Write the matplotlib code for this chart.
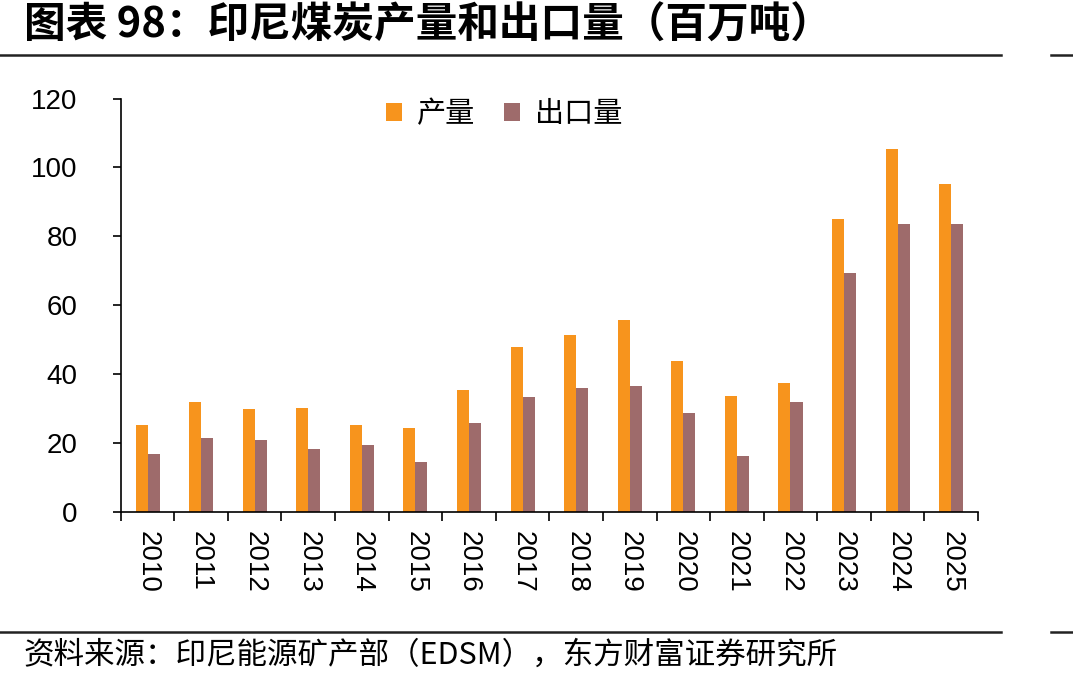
import matplotlib
matplotlib.use('Agg')
import matplotlib.pyplot as plt
from matplotlib.lines import Line2D
import numpy as np

plt.rcParams['font.family'] = ['Noto Sans CJK SC', 'DejaVu Sans']

years = ['2010', '2011', '2012', '2013', '2014', '2015', '2016', '2017',
         '2018', '2019', '2020', '2021', '2022', '2023', '2024', '2025']
production = [25.1, 31.9, 29.9, 30.1, 25.2, 24.3, 35.4, 48.0,
              51.3, 55.7, 43.7, 33.6, 37.3, 85.1, 105.4, 95.3]
exports = [16.8, 21.4, 20.9, 18.3, 19.4, 14.5, 25.8, 33.3,
           36.1, 36.5, 28.6, 16.1, 31.8, 69.5, 83.5, 83.7]

fig = plt.figure(figsize=(10.73, 6.85), dpi=100)
ax = fig.add_axes([0.1125, 0.2526, 0.799, 0.6036])

x = np.arange(len(years))
w = 0.224
ax.bar(x - w / 2, production, w, color='#F7941D', label='产量')
ax.bar(x + w / 2, exports, w, color='#9E6B6B', label='出口量')

ax.set_xlim(-0.5, len(years) - 0.5)
ax.set_ylim(0, 120)
ax.set_yticks(np.arange(0, 121, 20))
ax.tick_params(axis='y', direction='out', length=6, width=1.2, pad=25,
               labelsize=20)
for lab in ax.get_yticklabels():
    lab.set_fontfamily(['Liberation Sans'])

ax.set_xticks(np.arange(len(years) + 1) - 0.5)
ax.set_xticklabels([])
ax.tick_params(axis='x', which='major', direction='out', length=6.5, width=1.2)
ax.set_xticks(x, minor=True)
ax.set_xticklabels(years, minor=True, rotation=-90, fontsize=20,
                   fontfamily='Liberation Sans')
ax.tick_params(axis='x', which='minor', length=0, pad=14)

for s in ['top', 'right']:
    ax.spines[s].set_visible(False)
ax.spines['left'].set_linewidth(1.2)
ax.spines['bottom'].set_linewidth(1.2)

ax.legend(loc='upper center', bbox_to_anchor=(0.447, 1.062), ncol=2,
          frameon=False, fontsize=21, handlelength=0.55, handleheight=0.55,
          handletextpad=0.5, columnspacing=1.0)

fig.text(0.022, 0.962, '图表 98：印尼煤炭产量和出口量（百万吨）',
         fontsize=30, fontweight='bold', va='center', ha='left')
fig.text(0.022, 0.043, '资料来源：印尼能源矿产部（EDSM），东方财富证券研究所',
         fontsize=22, va='center', ha='left')

for yy in [1 - 55 / 685, 1 - 632 / 685]:
    fig.add_artist(Line2D([0, 1001 / 1073], [yy, yy], color='#222222', lw=1.8))
    fig.add_artist(Line2D([1051 / 1073, 1], [yy, yy], color='#222222', lw=1.8))

fig.savefig('out.png', dpi=100)
